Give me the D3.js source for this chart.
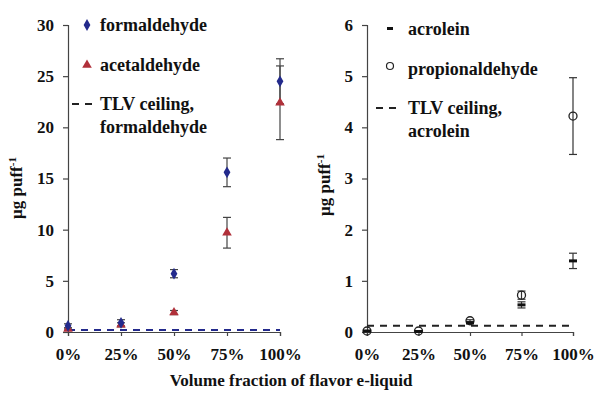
<!DOCTYPE html>
<html>
<head>
<meta charset="utf-8">
<script src="https://cdn.jsdelivr.net/npm/d3@7"></script>
<style>
  body { margin: 0; background: #fff; }
  text { font-family: "Liberation Serif", "DejaVu Serif", serif; font-weight: bold; fill: #111; }
</style>
</head>
<body>
<div id="chart"></div>
<script>
// volume fraction of flavor e-liquid (%)
const fractions = [0, 25, 50, 75, 100];

// left panel
const formaldehyde = [0.6, 0.9, 5.7, 15.6, 24.5];
const formaldehydeErr = [0.2, 0.3, 0.4, 1.4, 2.2];
const acetaldehyde = [0.3, 0.7, 1.9, 9.7, 22.4];
const acetaldehydeErr = [0.1, 0.2, 0.2, 1.5, 3.6];
const tlvFormaldehyde = 0.2;

// right panel
const acrolein = [0.02, 0.01, 0.18, 0.53, 1.39];
const acroleinErr = [0.01, 0.01, 0.02, 0.06, 0.15];
const propionaldehyde = [0.02, 0.02, 0.22, 0.72, 4.22];
const propionaldehydeErr = [0.01, 0.01, 0.02, 0.08, 0.75];
const tlvAcrolein = 0.12;

const leftTicks = [0, 5, 10, 15, 20, 25, 30];
const rightTicks = [0, 1, 2, 3, 4, 5, 6];

const w = 596, h = 394;
const svg = d3.select("#chart").append("svg")
  .attr("width", w)
  .attr("height", h);

const blue = "#232a8c", red = "#b0303a";

function panel(x0, x1, yMax, ticks) {
  const x = d3.scaleLinear().domain([0, 100]).range([x0, x1]);
  const y = d3.scaleLinear().domain([0, yMax]).range([332, 25]);
  const xAxis = d3.axisBottom(x).tickValues(fractions).tickFormat(d => d + "%").tickSize(4).tickPadding(12);
  const yAxis = d3.axisLeft(y).tickValues(ticks).tickFormat(d3.format("d")).tickSize(5).tickPadding(9);
  const gx = svg.append("g").attr("transform", "translate(0,332)").call(xAxis);
  const gy = svg.append("g").attr("transform", `translate(${x0},0)`).call(yAxis);
  [gx, gy].forEach(g => {
    g.attr("font-family", null);
    g.selectAll("path, line").attr("stroke", "#444").attr("stroke-width", 1.2);
    g.selectAll("text").style("font-size", "17px").attr("fill", "#111");
  });
  return { x, y };
}

function errorBars(sc, vals, errs, color) {
  const g = svg.append("g").attr("stroke", color).attr("stroke-width", 1.2);
  fractions.forEach((f, i) => {
    const cx = sc.x(f), lo = sc.y(vals[i] - errs[i]), hi = sc.y(vals[i] + errs[i]);
    if (Math.abs(lo - hi) < 2) return;
    g.append("line").attr("x1", cx).attr("x2", cx).attr("y1", lo).attr("y2", hi);
    g.append("line").attr("x1", cx - 4).attr("x2", cx + 4).attr("y1", lo).attr("y2", lo);
    g.append("line").attr("x1", cx - 4).attr("x2", cx + 4).attr("y1", hi).attr("y2", hi);
  });
}

function tlvLine(sc, v, color) {
  svg.append("line")
    .attr("x1", sc.x(0)).attr("x2", sc.x(100))
    .attr("y1", sc.y(v)).attr("y2", sc.y(v))
    .attr("stroke", color).attr("stroke-width", 2)
    .attr("stroke-dasharray", "7,6");
}

// ---- left panel
const L = panel(68, 280, 30, leftTicks);
tlvLine(L, tlvFormaldehyde, blue);
errorBars(L, formaldehyde, formaldehydeErr, "#444");
errorBars(L, acetaldehyde, acetaldehydeErr, "#444");

const diamond = d3.symbol().type(d3.symbolDiamond).size(40);
const triangle = d3.symbol().type(d3.symbolTriangle).size(40);

svg.append("g").selectAll("path")
  .data(acetaldehyde).enter().append("path")
  .attr("d", triangle)
  .attr("transform", (d, i) => `translate(${L.x(fractions[i])},${L.y(d)})`)
  .attr("fill", red);

svg.append("g").selectAll("path")
  .data(formaldehyde).enter().append("path")
  .attr("d", diamond)
  .attr("transform", (d, i) => `translate(${L.x(fractions[i])},${L.y(d)})`)
  .attr("fill", blue);

// ---- right panel
const R = panel(367, 573, 6, rightTicks);
tlvLine(R, tlvAcrolein, "#222");
errorBars(R, propionaldehyde, propionaldehydeErr, "#333");
errorBars(R, acrolein, acroleinErr, "#333");

svg.append("g").selectAll("circle")
  .data(propionaldehyde).enter().append("circle")
  .attr("cx", (d, i) => R.x(fractions[i]))
  .attr("cy", d => R.y(d))
  .attr("r", 4)
  .attr("fill", "none")
  .attr("stroke", "#222")
  .attr("stroke-width", 1.3);

svg.append("g").selectAll("rect")
  .data(acrolein).enter().append("rect")
  .attr("x", (d, i) => R.x(fractions[i]) - 4)
  .attr("y", d => R.y(d) - 1.5)
  .attr("width", 8)
  .attr("height", 3)
  .attr("fill", "#111");

// ---- legends
function legendText(x, y, str) {
  svg.append("text").attr("x", x).attr("y", y).style("font-size", "18px").text(str);
}
svg.append("path").attr("d", diamond).attr("transform", "translate(87,25)").attr("fill", blue);
legendText(100, 31, "formaldehyde");
svg.append("path").attr("d", triangle).attr("transform", "translate(87,65)").attr("fill", red);
legendText(100, 71, "acetaldehyde");
svg.append("line").attr("x1", 72).attr("x2", 96).attr("y1", 104).attr("y2", 104)
  .attr("stroke", "#222").attr("stroke-width", 2).attr("stroke-dasharray", "7,6");
legendText(100, 110, "TLV ceiling,");
legendText(100, 133, "formaldehyde");

svg.append("rect").attr("x", 387).attr("y", 27).attr("width", 6).attr("height", 3).attr("fill", "#111");
legendText(408, 35, "acrolein");
svg.append("circle").attr("cx", 390).attr("cy", 66).attr("r", 3.5)
  .attr("fill", "none").attr("stroke", "#222").attr("stroke-width", 1.2);
legendText(408, 75, "propionaldehyde");
svg.append("line").attr("x1", 376).attr("x2", 402).attr("y1", 108).attr("y2", 108)
  .attr("stroke", "#222").attr("stroke-width", 2).attr("stroke-dasharray", "7,6");
legendText(408, 114, "TLV ceiling,");
legendText(408, 137, "acrolein");

// ---- axis titles
function yTitle(x, y) {
  const t = svg.append("text")
    .attr("transform", `translate(${x},${y}) rotate(-90)`)
    .attr("text-anchor", "middle")
    .style("font-size", "17px");
  t.append("tspan").text("μg puff");
  t.append("tspan").attr("dy", -6).style("font-size", "11px").text("-1");
}
yTitle(22, 188);
yTitle(330, 185);

svg.append("text")
  .attr("x", 291).attr("y", 386)
  .attr("text-anchor", "middle")
  .style("font-size", "17px")
  .text("Volume fraction of flavor e-liquid");
</script>
</body>
</html>
